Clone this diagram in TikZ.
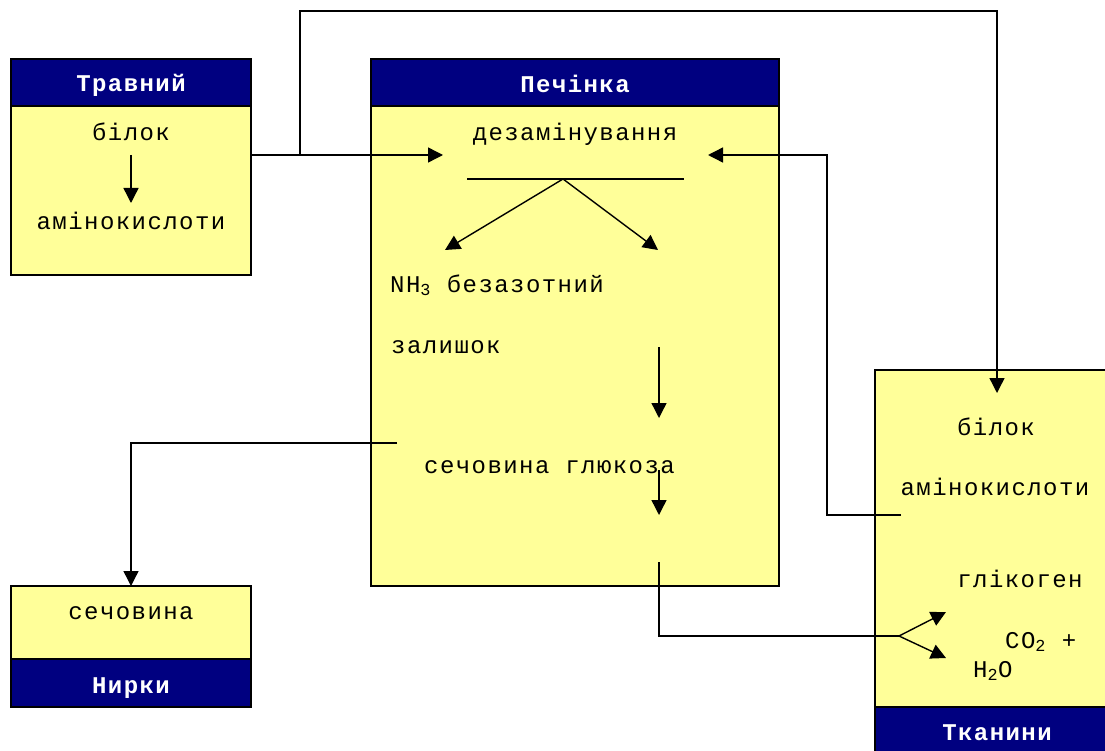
\documentclass[tikz,border=0pt]{standalone}
\usepackage{fontspec}
\setmainfont{Liberation Mono}[LetterSpace=6]
\usetikzlibrary{arrows.meta}
\definecolor{boxyellow}{HTML}{FFFF99}
\definecolor{headnavy}{HTML}{000080}
\begin{document}
\begin{tikzpicture}[x=1pt,y=-1pt,
  body/.style={draw=black,line width=1.8pt,fill=boxyellow,anchor=north west,inner sep=0pt,outer sep=0pt},
  head/.style={draw=black,line width=1.8pt,fill=headnavy,anchor=north west,inner sep=0pt,outer sep=0pt},
  htext/.style={text=white,inner sep=0pt,anchor=base,font=\fontsize{24pt}{28pt}\selectfont\bfseries},
  txt/.style={inner sep=0pt,anchor=base,font=\fontsize{24pt}{28pt}\selectfont},
  ltxt/.style={txt,anchor=base west},
  conn/.style={line width=1.4pt},
  arr/.style={conn,-{Triangle[length=15pt,width=15pt]}}]
\useasboundingbox (0,0) rectangle (1105,751);
\fill[white] (0,0) rectangle (1105,751);
% boxes
\node[body,minimum width=240pt,minimum height=169pt] (travbody) at (11,106) {};
\node[head,minimum width=240pt,minimum height=47pt] (travhead) at (11,59) {};
\node[body,minimum width=408pt,minimum height=480pt] (pechbody) at (371,106) {};
\node[head,minimum width=408pt,minimum height=47pt] (pechhead) at (371,59) {};
\node[body,minimum width=240pt,minimum height=73pt] (nirbody) at (11,586) {};
\node[head,minimum width=240pt,minimum height=48pt] (nirhead) at (11,659) {};
\node[body,minimum width=240pt,minimum height=337pt] (tkbody) at (875,370) {};
\node[head,minimum width=240pt,minimum height=50pt] (tkhead) at (875,707) {};
% header texts
\node[htext] (travt) at (131,92) {Травний};
\node[htext] (pecht) at (575,93) {Печінка};
\node[htext] (nirt) at (131,693) {Нирки};
\node[htext] (tkt) at (997,740) {Тканини};
% texts
\node[txt] (bilok1) at (131,141) {білок};
\node[txt] (amino1) at (131,230) {амінокислоти};
\node[txt] (deamin) at (575,141) {дезамінування};
\node[ltxt] (nh3) at (390,292) {NH\textsubscript{3} безазотний};
\node[ltxt] (zal) at (391,353) {залишок};
\node[ltxt] (sechglu) at (424,473) {сечовина глюкоза};
\node[txt] (sech2) at (131,619) {сечовина};
\node[txt] (bilok2) at (996,435) {білок};
\node[txt] (amino2) at (995,495) {амінокислоти};
\node[txt] (glik) at (1020,587) {глікоген};
\node[ltxt] (co2) at (1005,648) {CO\textsubscript{2} +};
\node[ltxt] (h2o) at (973,677) {H\textsubscript{2}O};
% coordinates
\coordinate (j1) at (300,155);
\coordinate (dIn) at (443,155);
\coordinate (topR) at (997,11);
\coordinate (tIn) at (997,393);
\coordinate (barL) at (467,179);
\coordinate (barR) at (684,179);
\coordinate (apex) at (563,179);
\coordinate (nhT) at (445,250);
\coordinate (reT) at (658,250);
\coordinate (a1s) at (659,347);
\coordinate (a1e) at (659,418);
\coordinate (a2s) at (659,470);
\coordinate (a2e) at (659,515);
\coordinate (gs) at (659,562);
\coordinate (br) at (899,636);
\coordinate (brU) at (946,612);
\coordinate (brD) at (946,658);
\coordinate (us) at (397,443);
\coordinate (aks) at (901,515);
\coordinate (akc) at (827,155);
\coordinate (akIn) at (708,155);
% connectors
\draw[arr] (bilok1.south |- 0,155) -- (bilok1.south |- 0,203);
\draw[conn] (travbody.east |- j1) -- (j1);
\draw[arr] (j1) -- (dIn);
\draw[arr] (j1) |- (topR) -- (tIn);
\draw[conn] (barL) -- (barR);
\draw[arr] (apex) -- (nhT);
\draw[arr] (apex) -- (reT);
\draw[arr] (a1s) -- (a1e);
\draw[arr] (a2s) -- (a2e);
\draw[conn] (gs) |- (br);
\draw[arr] (br) -- (brU);
\draw[arr] (br) -- (brD);
\draw[arr] (us) -| (nirbody.north);
\draw[arr] (aks) -| (akc) -- (akIn);
\end{tikzpicture}
\end{document}
